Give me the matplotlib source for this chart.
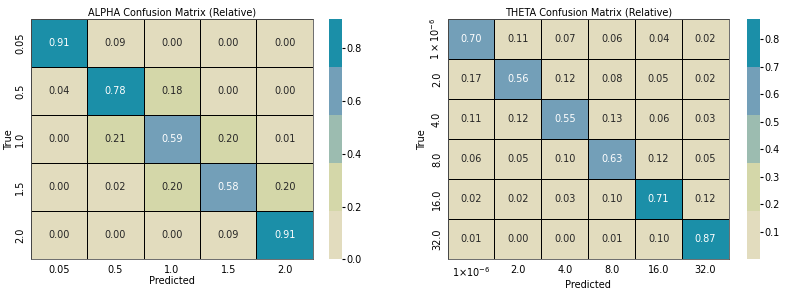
import matplotlib
matplotlib.use("Agg")
import matplotlib.pyplot as plt
from matplotlib.colors import ListedColormap
import numpy as np
import seaborn as sns

# confusion matrices (row-normalised)
alpha_labels = ["0.05", "0.5", "1.0", "1.5", "2.0"]
alpha_cm = [
    [0.91, 0.09, 0.00, 0.00, 0.00],
    [0.04, 0.78, 0.184, 0.00, 0.00],
    [0.00, 0.21, 0.59, 0.20, 0.01],
    [0.00, 0.02, 0.20, 0.58, 0.20],
    [0.00, 0.00, 0.00, 0.09, 0.91],
]

theta_xlabels = ["1×10$^{-6}$", "2.0", "4.0", "8.0", "16.0", "32.0"]
theta_ylabels = [r"$1\times10^{-6}$", "2.0", "4.0", "8.0", "16.0", "32.0"]
theta_cm = [
    [0.697, 0.11, 0.07, 0.06, 0.04, 0.02],
    [0.17, 0.56, 0.12, 0.08, 0.05, 0.02],
    [0.11, 0.12, 0.55, 0.13, 0.06, 0.03],
    [0.06, 0.05, 0.10, 0.63, 0.12, 0.05],
    [0.02, 0.02, 0.03, 0.10, 0.71, 0.12],
    [0.01, 0.00, 0.00, 0.01, 0.10, 0.872],
]

palette = ["#e2dcbe", "#d4d7a9", "#9cbcb0", "#739fb8", "#1b8fa8"]
cmap = ListedColormap(palette)

FS = 7
plt.rcParams["font.size"] = FS

fig = plt.figure(figsize=(7.88, 2.92), dpi=100)
ax1 = fig.add_axes([0.039, 0.112, 0.358, 0.822])
cax1 = fig.add_axes([0.418, 0.112, 0.0165, 0.822])
ax2 = fig.add_axes([0.568, 0.112, 0.357, 0.822])
cax2 = fig.add_axes([0.948, 0.112, 0.0162, 0.822])

sns.heatmap(np.array(alpha_cm), ax=ax1, cbar_ax=cax1, cmap=cmap, annot=True, fmt=".2f",
            annot_kws={"fontsize": FS}, linewidths=0.5, linecolor="black",
            xticklabels=alpha_labels, yticklabels=alpha_labels)
ax1.set_title("ALPHA Confusion Matrix (Relative)", fontsize=FS, pad=3)
ax1.set_xlabel("Predicted", fontsize=FS, labelpad=1)
ax1.set_ylabel("True", fontsize=FS, labelpad=1)

sns.heatmap(np.array(theta_cm), ax=ax2, cbar_ax=cax2, cmap=cmap, annot=True, fmt=".2f",
            annot_kws={"fontsize": FS}, linewidths=0.5, linecolor="black",
            vmin=0.0, xticklabels=theta_xlabels, yticklabels=theta_ylabels)
ax2.set_title("THETA Confusion Matrix (Relative)", fontsize=FS, pad=3)
ax2.set_xlabel("Predicted", fontsize=FS, labelpad=1)
ax2.set_ylabel("True", fontsize=FS, labelpad=1)
cax2.set_yticks(np.arange(1, 9) / 10)

for ax in (ax1, ax2):
    ax.tick_params(labelsize=FS, length=0, pad=4)
    plt.setp(ax.get_yticklabels(), rotation=90, va="center")
    plt.setp(ax.get_xticklabels(), rotation=0)
    for sp in ax.spines.values():
        sp.set_visible(True)
        sp.set_color("#555555")
        sp.set_linewidth(0.6)
for cax in (cax1, cax2):
    cax.tick_params(labelsize=FS, length=2, pad=1)

fig.savefig("out.png", dpi=100)
